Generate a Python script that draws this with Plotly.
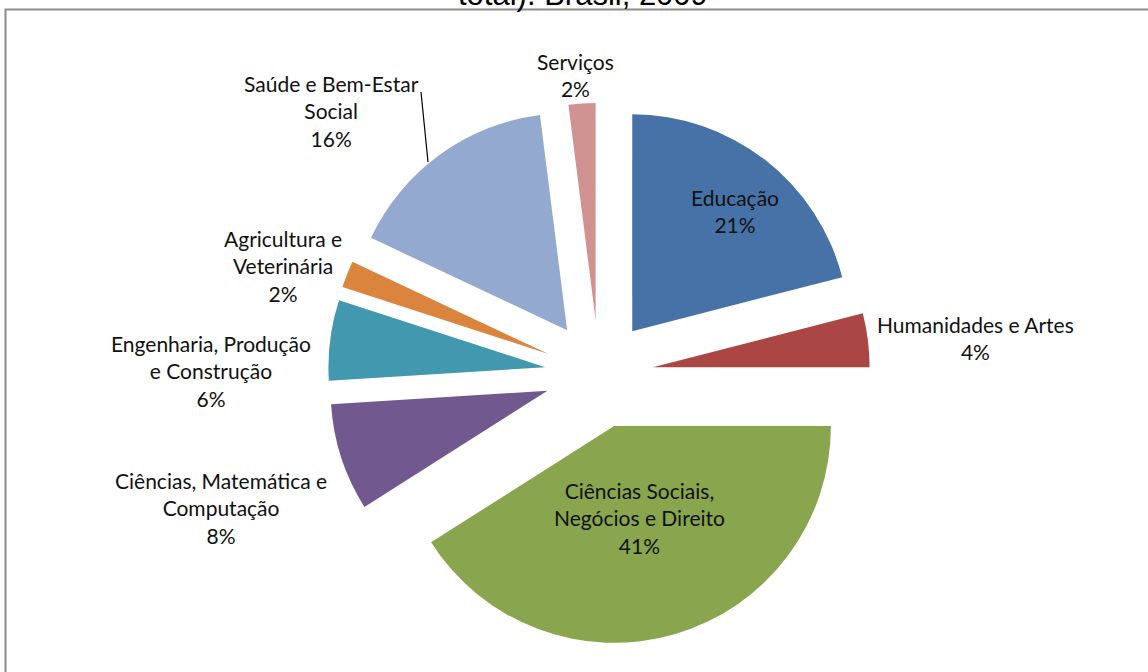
import plotly.graph_objects as go

# data (share of total, %)
areas = [
    "Educação",
    "Humanidades e Artes",
    "Ciências Sociais, Negócios e Direito",
    "Ciências, Matemática e Computação",
    "Engenharia, Produção e Construção",
    "Agricultura e Veterinária",
    "Saúde e Bem-Estar Social",
    "Serviços",
]
shares = [21, 4, 41, 8, 6, 2, 16, 2]

# how each category name wraps in the labels
area_lines = [
    ["Educação"],
    ["Humanidades e Artes"],
    ["Ciências Sociais,", "Negócios e Direito"],
    ["Ciências, Matemática e", "Computação"],
    ["Engenharia, Produção", "e Construção"],
    ["Agricultura e", "Veterinária"],
    ["Saúde e Bem-Estar", "Social"],
    ["Serviços"],
]
title_text = "total). Brasil, 2009"

colors = ["#4672A7", "#AA4643", "#89A54E", "#71588F",
          "#4198AF", "#DB843D", "#93A9CF", "#D19392"]

W, H = 1148, 672

def px(x, y):
    return x / W, 1 - y / H

fig = go.Figure()

fig.add_trace(go.Pie(
    labels=areas,
    values=shares,
    sort=False,
    direction="clockwise",
    rotation=0,
    pull=0.25,
    marker=dict(colors=colors, line=dict(width=0)),
    textinfo="none",
    hoverinfo="label+percent",
    domain=dict(x=[328 / W, 870 / W], y=[1 - 645 / H, 1 - 103 / H]),
))

# label centres in pixels, same order as the data
label_pos = [(735, 211), (975, 338), (639, 518), (221, 508),
             (211, 371), (283, 266), (331, 111), (575, 75)]

total = sum(shares)
annotations = []
for lines, v, (lx, ly) in zip(area_lines, shares, label_pos):
    txt = "<br>".join(lines + ["%d%%" % round(v * 100 / total)])
    x, y = px(lx, ly)
    annotations.append(dict(
        x=x, y=y, xref="paper", yref="paper", text=txt, showarrow=False,
        xanchor="center", yanchor="middle", align="center",
        font=dict(family="Lato", size=21, color="#111111"),
    ))

# cut-off title at the very top
annotations.append(dict(
    x=583 / W, y=1, xref="paper", yref="paper", text=title_text,
    showarrow=False, xanchor="center", yanchor="bottom", yshift=-14,
    font=dict(family="Liberation Sans", size=31, color="#000000"),
))

x0, y0 = px(421, 92)
x1, y1 = px(428, 162)
shapes = [
    # leader line for Saúde
    dict(type="line", xref="paper", yref="paper", x0=x0, y0=y0, x1=x1, y1=y1,
         line=dict(color="#000000", width=1.2)),
    # chart frame
    dict(type="rect", xref="paper", yref="paper", x0=5.5 / W, y0=-0.05,
         x1=1.05, y1=1 - 9.5 / H, line=dict(color="#8C8C8C", width=2)),
]

fig.update_layout(
    width=W, height=H,
    margin=dict(l=0, r=0, t=0, b=0),
    paper_bgcolor="white",
    plot_bgcolor="white",
    showlegend=False,
    annotations=annotations,
    shapes=shapes,
)

fig.write_html("out.html", config={"displayModeBar": False},
               post_script="document.body.style.margin='0';document.body.style.overflow='hidden';")
